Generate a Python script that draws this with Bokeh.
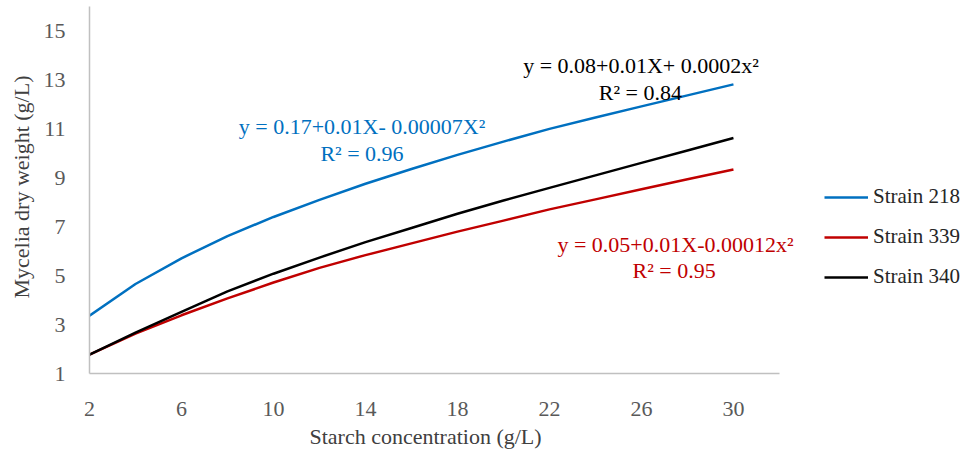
from bokeh.plotting import figure
from bokeh.models import Range1d, FixedTicker, Legend, LegendItem, Label, Title
from bokeh.embed import file_html
from bokeh.resources import INLINE

# Data
starch = [2, 4, 6, 8, 10, 12, 14, 16, 18, 20, 22, 24, 26, 28, 30]
strain_218 = [3.36, 4.66, 5.71, 6.62, 7.40, 8.10, 8.76, 9.36, 9.94, 10.48, 11.00, 11.47, 11.92, 12.37, 12.82]
strain_339 = [1.77, 2.63, 3.38, 4.07, 4.72, 5.32, 5.84, 6.32, 6.80, 7.25, 7.71, 8.12, 8.53, 8.94, 9.34]
strain_340 = [1.77, 2.67, 3.52, 4.36, 5.08, 5.74, 6.37, 6.95, 7.53, 8.07, 8.59, 9.10, 9.61, 10.12, 10.63]
x_ticks = [2, 6, 10, 14, 18, 22, 26, 30]
y_ticks = [1, 3, 5, 7, 9, 11, 13, 15]

FONT = "Liberation Serif"
BLUE = "#0070C0"
RED = "#C00000"
BLACK = "#000000"

# The frame is widened to the right so that the legend and the equation
# labels (which are clipped to the frame) stay visible; the x axis line is
# bounded to 2..32 as in the reference.
p = figure(frame_width=876, frame_height=373,
           x_range=Range1d(2, 40.09), y_range=Range1d(1, 16.25),
           output_backend="svg", toolbar_location=None,
           min_border_left=0, min_border_right=0, min_border_top=0, min_border_bottom=0)
p.margin = (0, 0, 0, 5)
p.outline_line_color = None
p.xgrid.grid_line_color = None
p.ygrid.grid_line_color = None
p.background_fill_color = "white"
p.border_fill_color = "white"

for ax in (p.xaxis[0], p.yaxis[0]):
    ax.axis_line_color = "#c0c0c0"
    ax.axis_line_width = 1.5
    ax.major_tick_line_color = None
    ax.minor_tick_line_color = None
    ax.major_label_text_font = FONT
    ax.major_label_text_font_size = "22px"
    ax.major_label_text_color = "#595959"
    ax.axis_label_text_font = FONT
    ax.axis_label_text_font_size = "22px"
    ax.axis_label_text_color = "#404040"
    ax.axis_label_text_font_style = "normal"

p.xaxis.bounds = (2, 32)
p.yaxis.bounds = (1, 16)
p.xaxis.ticker = FixedTicker(ticks=x_ticks)
p.yaxis.ticker = FixedTicker(ticks=y_ticks)
p.yaxis.axis_label = "Mycelia dry weight (g/L)"
p.xaxis.major_label_standoff = 22
p.yaxis.major_label_standoff = 18
p.yaxis.axis_label_standoff = 7

# x-axis title, placed under the axis part of the (widened) frame
p.add_layout(Title(text="Starch concentration (g/L)", align="left", offset=220, standoff=7,
                   text_font=FONT, text_font_size="22px", text_font_style="normal",
                   text_color="#404040"), "below")

r1 = p.line(starch, strain_218, line_color=BLUE, line_width=2.5, line_join="round")
r2 = p.line(starch, strain_339, line_color=RED, line_width=2.5, line_join="round")
r3 = p.line(starch, strain_340, line_color=BLACK, line_width=2.5, line_join="round")

legend = Legend(items=[LegendItem(label="Strain 218", renderers=[r1]),
                       LegendItem(label="Strain 339", renderers=[r2]),
                       LegendItem(label="Strain 340", renderers=[r3])],
                location=(735, 84), margin=0, padding=0,
                border_line_color=None, background_fill_alpha=0,
                glyph_width=44, glyph_height=24, label_height=24,
                label_standoff=5, spacing=15,
                label_text_font=FONT, label_text_font_size="21px",
                label_text_color="#262626")
p.add_layout(legend, "center")

def eq(text, x, y, color):
    p.add_layout(Label(x=x, y=y, text=text, text_align="center", text_baseline="middle",
                       text_font=FONT, text_font_size="22px", text_color=color))

eq("y = 0.17+0.01X- 0.00007X²", 13.85, 11.08, BLUE)
eq("R² = 0.96", 13.85, 9.98, BLUE)
eq("y = 0.08+0.01X+ 0.0002x²", 25.98, 13.59, BLACK)
eq("R² = 0.84", 25.95, 12.48, BLACK)
eq("y = 0.05+0.01X-0.00012x²", 27.48, 6.27, RED)
eq("R² = 0.95", 27.42, 5.22, RED)

open("out.html", "w").write(file_html(p, INLINE))
